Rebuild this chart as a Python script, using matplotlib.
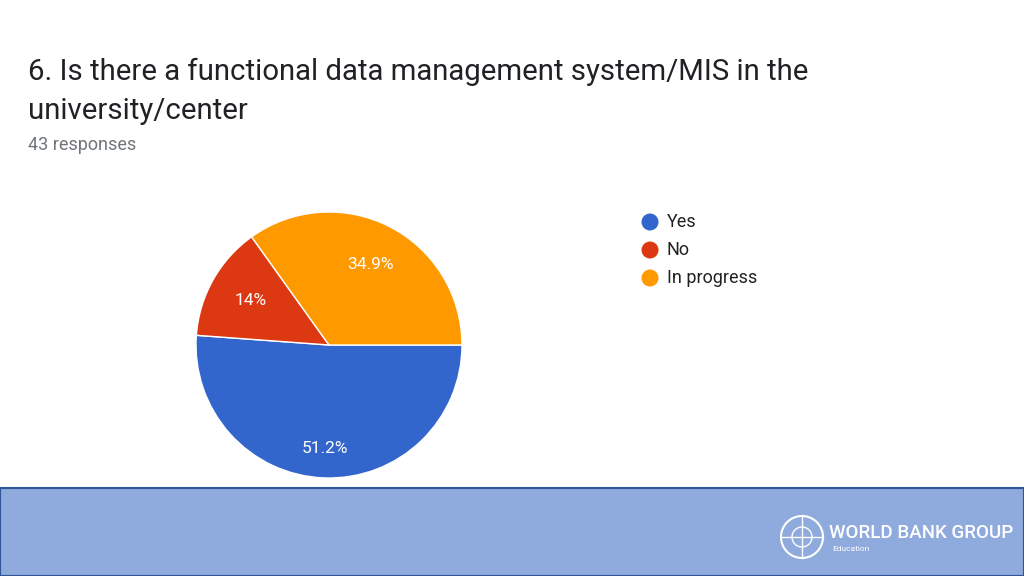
import matplotlib
matplotlib.use("Agg")
import matplotlib.pyplot as plt
import numpy as np

labels = ["Yes", "No", "In progress"]
values = [22, 6, 15]
pct_labels = ["51.2%", "14%", "34.9%"]
colors = ["#3366cc", "#dc3912", "#ff9900"]

fig = plt.figure(figsize=(10.24, 5.76), dpi=100)
fig.patch.set_facecolor("white")

bg = fig.add_axes([0, 0, 1, 1])
bg.set_xlim(0, 1024); bg.set_ylim(576, 0); bg.axis("off")
bg.add_patch(plt.Rectangle((0, 488), 1024, 88, facecolor="#8faadc",
                           edgecolor="#2f5597", linewidth=1.5))
bg.add_patch(plt.Circle((802, 537), 21, facecolor="none", edgecolor="white", linewidth=1.5))
bg.add_patch(plt.Circle((802, 537), 10, facecolor="none", edgecolor="white", linewidth=1))
bg.plot([781, 823], [537, 537], color="white", lw=1)
bg.plot([802, 802], [516, 558], color="white", lw=1)
bg.text(829, 533, "WORLD BANK GROUP", fontsize=13.5, color="white", va="center",
        family="Roboto", fontweight="medium")
bg.text(832, 549, "Education", fontsize=6, color="white", va="center", family="Roboto")

bg.text(28, 72, "6. Is there a functional data management system/MIS in the",
        fontsize=21.2, color="#202124", family="Roboto", va="center")
bg.text(28, 111, "university/center", fontsize=21.2, color="#202124",
        family="Roboto", va="center")
bg.text(28, 145, "43 responses", fontsize=13, color="#70757a",
        family="Roboto", va="center")

for i, (l, c) in enumerate(zip(labels, colors)):
    y = 222 + 28 * i
    bg.scatter([650], [y], s=150, color=c, edgecolors="none")
    bg.text(667, y, l, fontsize=13, color="#222222", va="center", family="Roboto")

r = 133
ax = fig.add_axes([(329 - r) / 1024, 1 - (345 + r) / 576, 2 * r / 1024, 2 * r / 576])
ax.pie(values, colors=colors, startangle=0, counterclock=False,
       wedgeprops=dict(edgecolor="white", linewidth=1))
ax.set_xlim(-1, 1); ax.set_ylim(-1, 1)
ang = 0
for v, t in zip(values, pct_labels):
    frac = v / sum(values) * 360
    mid = np.deg2rad(-(ang + frac / 2))
    rr = 0.78 if frac > 180 else 0.68
    ax.text(rr * np.cos(mid), rr * np.sin(mid), t, color="white", fontsize=12.5,
            ha="center", va="center", family="Roboto")
    ang += frac

fig.savefig("out.png", dpi=100)
